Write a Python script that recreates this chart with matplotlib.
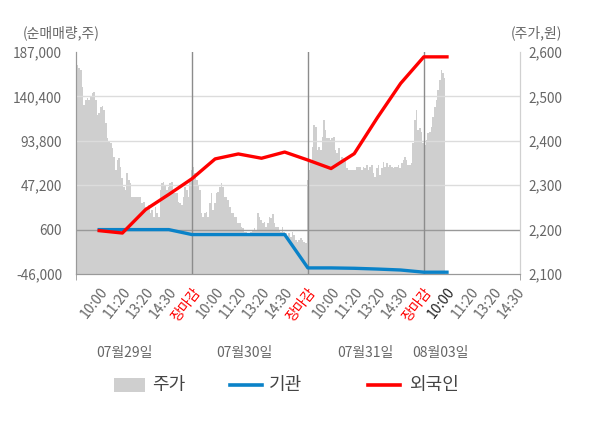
import matplotlib
matplotlib.use("Agg")
import matplotlib.pyplot as plt
import matplotlib.transforms as mtransforms
from matplotlib.patches import Rectangle
from matplotlib.lines import Line2D
import numpy as np

plt.rcParams["font.family"] = ["Noto Sans CJK KR", "DejaVu Sans"]

# 주가 (price, right axis), read roughly every 1.7 px from the picture
price_day1 = [2556, 2571, 2564, 2559, 2521, 2481, 2492, 2496, 2492, 2499, 2508, 2510,
              2492, 2458, 2463, 2476, 2478, 2469, 2440, 2406, 2397, 2395, 2384, 2364,
              2334, 2357, 2361, 2341, 2316, 2296, 2289, 2328, 2312, 2305, 2273, 2273,
              2273, 2273, 2273, 2273, 2260, 2262, 2251, 2244, 2255, 2237, 2244, 2228,
              2251, 2237, 2228, 2289, 2305, 2307, 2300, 2289, 2296]
price_day2 = [2305, 2307, 2289, 2282, 2282, 2262, 2260, 2255, 2273, 2296, 2289, 2273,
              2312, 2334, 2341, 2328, 2312, 2300, 2289, 2237, 2228, 2237, 2240, 2228,
              2260, 2282, 2244, 2260, 2282, 2285, 2296, 2305, 2296, 2273, 2273, 2267,
              2251, 2237, 2237, 2228, 2228, 2215, 2215, 2206, 2204, 2195, 2195, 2192,
              2192, 2195, 2199, 2204, 2199, 2237, 2228, 2222, 2215,
              2217, 2206, 2215, 2228, 2226, 2235, 2215, 2206, 2206, 2199, 2195, 2206,
              2195, 2192, 2183, 2192, 2183, 2195, 2188, 2177, 2172, 2177, 2181, 2177,
              2172, 2170]
price_day3 = [2312, 2334, 2357, 2386, 2436, 2431, 2379, 2386, 2379, 2409, 2447, 2424,
              2406, 2406, 2402, 2406, 2409, 2379, 2373, 2384, 2357, 2364, 2361, 2357,
              2339, 2334, 2334, 2334, 2334, 2334, 2341,
              2341, 2341, 2334, 2341, 2339, 2346, 2334, 2341, 2346, 2328, 2318, 2339,
              2346, 2323, 2339, 2352, 2341, 2350, 2341, 2346, 2341, 2339, 2341, 2341,
              2346, 2339, 2350, 2357, 2364, 2357, 2346, 2346, 2350, 2395, 2447, 2469,
              2424, 2429, 2420]
price_day4 = [2395, 2391, 2402, 2418, 2420, 2431, 2454, 2476, 2492, 2514, 2537, 2559,
              2553, 2541]
price = price_day1 + price_day2 + price_day3 + price_day4

# 순매매량 (cumulative net buy, left axis) at each time slot
slot_idx = list(range(1, 17))
gigwan = [600, 600, 600, 600, -4600, -4600, -4600, -4600, -4600, -39600,
          -39600, -40000, -40800, -41800, -44100, -44100]
foreign = [-500, -3000, 21600, 37500, 54000, 74800, 80000, 75500, 82000, 73600,
           64700, 80300, 118200, 154000, 181900, 181900]

x_labels = ["10:00", "11:20", "13:20", "14:30", "장마감",
            "10:00", "11:20", "13:20", "14:30", "장마감",
            "10:00", "11:20", "13:20", "14:30", "장마감",
            "10:00", "11:20", "13:20", "14:30"]
day_names = ["07월29일", "07월30일", "07월31일", "08월03일"]
day_pos = [2.07, 7.28, 12.5, 15.73]

left_ticks = [-46000, 600, 47200, 93800, 140400, 187000]
right_ticks = [2100, 2200, 2300, 2400, 2500, 2600]

grey_txt = "#666666"
c_price = "#cfcfcf"
c_gigwan = "#0a82c8"
c_foreign = "#ff0000"

fig = plt.figure(figsize=(6, 4.28), dpi=100)
ax = fig.add_axes([0.1267, 0.3598, 0.74, 0.5187])
ax2 = ax.twinx()
ax.set_zorder(ax2.get_zorder() + 1)
ax.patch.set_visible(False)
ax2.patch.set_facecolor("#f4f4f4")

xmax = 19.15
px = np.linspace(0, 15.9, len(price))
ax2.fill_between(px, 2100, price, step="mid", color=c_price, lw=0)
ax2.set_ylim(2100, 2600)
ax2.set_yticks(right_ticks)
ax2.set_yticklabels([f"{v:,}" for v in right_ticks])

ax.set_xlim(0, xmax)
ax.set_ylim(-46000, 187000)
ax.set_yticks(left_ticks)
ax.set_yticklabels([f"{v:,}" for v in left_ticks])

for v in [47200, 93800, 140400]:
    ax.axhline(v, color="#dcdcdc", lw=1, zorder=1)
ax.axhline(600, color="#999999", lw=1, zorder=1)
for d in [5, 10, 15]:
    ax.axvline(d, color="#8c8c8c", lw=1, zorder=1)

ax.plot(slot_idx, gigwan, color=c_gigwan, lw=2.4, zorder=3)
ax.plot(slot_idx, foreign, color=c_foreign, lw=2.4, zorder=4)

ax.set_xticks(range(1, 20))
ax.set_xticklabels(x_labels, rotation=52, ha="right", rotation_mode="anchor")
ax.tick_params(axis="x", length=0, pad=8, labelsize=10)
for i, t in enumerate(ax.get_xticklabels()):
    if x_labels[i] == "장마감":
        t.set_color("#ff0000")
    elif i == 15:
        t.set_color("#222222")
    else:
        t.set_color(grey_txt)
ax.set_xticks([0, 5, 10, 15, xmax], minor=True)
ax.tick_params(axis="x", which="minor", length=4, color="#999999")

ax.tick_params(axis="y", length=0, pad=10, labelsize=9.8, labelcolor=grey_txt)
ax2.tick_params(axis="y", length=0, pad=6, labelsize=9.8, labelcolor=grey_txt)

for a in (ax, ax2):
    a.spines["top"].set_visible(False)
    a.spines["left"].set_color("#999999")
    a.spines["bottom"].set_color("#999999")
    a.spines["right"].set_color("#d0d0d0")

trans = mtransforms.blended_transform_factory(ax.transData, ax.transAxes)
for name, pos in zip(day_names, day_pos):
    ax.text(pos, -0.355, name, transform=trans, ha="center", va="center",
            fontsize=10, color=grey_txt)

fig.text(0.038, 0.923, "(순매매량,주)", ha="left", va="center", fontsize=10, color=grey_txt)
fig.text(0.937, 0.923, "(주가,원)", ha="right", va="center", fontsize=10, color=grey_txt)

# legend drawn by hand, in figure pixels
W, H = 600, 428
ly = 1 - 385 / H
fig.patches.append(Rectangle((114 / W, 1 - 392 / H), 31 / W, 14 / H,
                             transform=fig.transFigure, facecolor=c_price, edgecolor="none"))
fig.lines.append(Line2D([230 / W, 262 / W], [ly, ly], transform=fig.transFigure,
                        color=c_gigwan, lw=2.6))
fig.lines.append(Line2D([368 / W, 400 / W], [ly, ly], transform=fig.transFigure,
                        color=c_foreign, lw=2.6))
for tx, label in [(152, "주가"), (269, "기관"), (409, "외국인")]:
    fig.text(tx / W, ly, label, ha="left", va="center", fontsize=13, color="#444444")

fig.savefig("out.png", dpi=100)
